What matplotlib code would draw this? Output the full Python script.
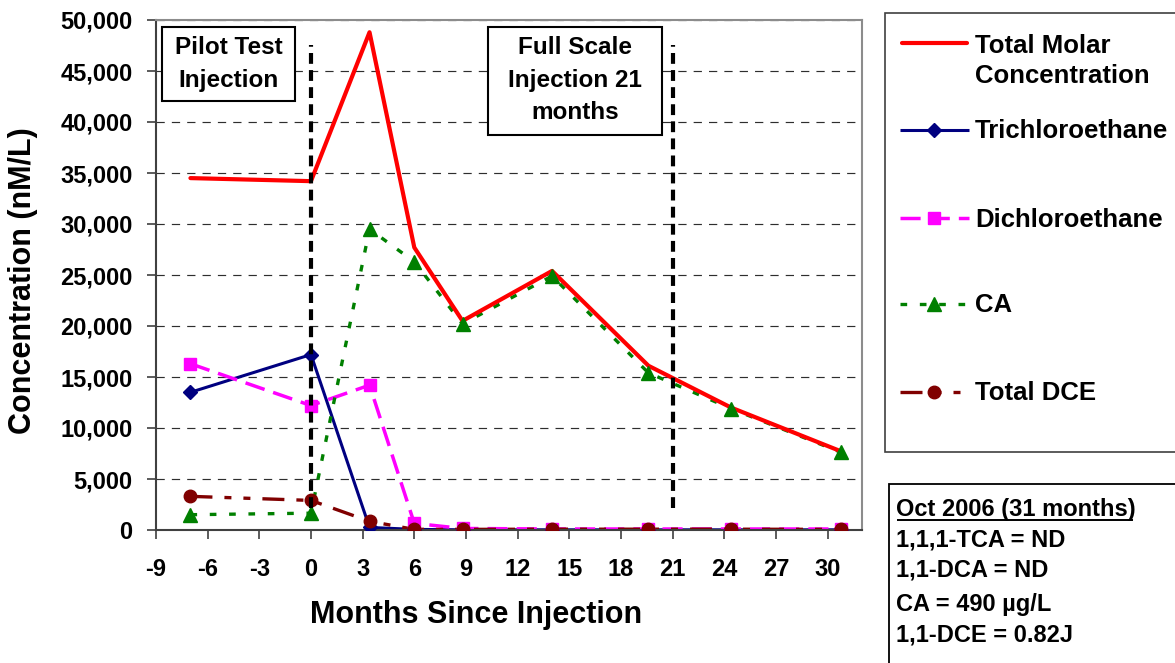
import matplotlib
matplotlib.use("Agg")
import matplotlib.pyplot as plt
from matplotlib.ticker import FuncFormatter
from matplotlib.patches import Rectangle

plt.rcParams['font.family'] = ['Liberation Sans', 'DejaVu Sans']
plt.rcParams['font.weight'] = 'bold'
plt.rcParams['axes.unicode_minus'] = False

# ---- data -------------------------------------------------------------
months = [-7, 0, 3.4, 6, 8.8, 14, 19.6, 24.4, 30.8]
total_molar = [34500, 34200, 48800, 27700, 20500, 25400, 16100, 12000, 7700]
trichloroethane = [13500, 17200, 250, 60, 20, 20, 20, 20, 20]
dichloroethane = [16300, 12200, 14200, 650, 150, 100, 100, 100, 100]
ca = [1500, 1650, 29500, 26300, 20200, 24900, 15400, 11900, 7600]
total_dce = [3300, 2900, 850, 60, 60, 80, 80, 80, 60]

series_labels = ["Total Molar\nConcentration", "Trichloroethane",
                 "Dichloroethane", "CA", "Total DCE"]
x_ticks = list(range(-9, 31, 3))
y_ticks = list(range(0, 50001, 5000))
injection_months = [0, 21]
injection_labels = ["Pilot Test\nInjection", "Full Scale\nInjection 21\nmonths"]
note_lines = ["Oct 2006 (31 months)", "1,1,1-TCA = ND", "1,1-DCA = ND",
              "CA = 490 \u00b5g/L", "1,1-DCE = 0.82J"]

# ---- styles -----------------------------------------------------------
series_values = [total_molar, trichloroethane, dichloroethane, ca, total_dce]
styles = [
    dict(color='#FF0000', lw=3.0, ls='-', marker=None, ms=0, z=2.4),
    dict(color='#000080', lw=2.2, ls='-', marker='D', ms=7, z=2.1),
    dict(color='#FF00FF', lw=2.5, ls=(0, (5.8, 2.6)), marker='s', ms=9, z=2.2),
    dict(color='#008000', lw=2.4, ls=(0, (2.0, 3.8)), marker='^', ms=10.5, z=2.3),
    dict(color='#800000', lw=2.4, ls=(0, (6.6, 3.6, 2.1, 3.6, 2.1, 3.6)),
         marker='o', ms=9, z=2.5),
]

W, H = 1175, 663
fig = plt.figure(figsize=(W / 100, H / 100), dpi=100)
fig.patch.set_facecolor('white')

ax_l, ax_r, ax_t, ax_b = 156, 862, 20, 530
ax = fig.add_axes([ax_l / W, 1 - ax_b / H, (ax_r - ax_l) / W, (ax_b - ax_t) / H])

for vals, st in zip(series_values, styles):
    ax.plot(months, vals, color=st['color'], lw=st['lw'], ls=st['ls'],
            solid_capstyle='round', dash_capstyle='butt', zorder=st['z'])
    if st['marker']:
        ax.plot(months, vals, ls='none', marker=st['marker'], ms=st['ms'],
                color=st['color'], mec=st['color'], zorder=st['z'] + 1)

# injection markers
for m in injection_months:
    ax.plot([m, m], [2150, 47550], color='black', lw=3.0,
            ls=(0, (2.6, 1.5)), dash_capstyle='butt', zorder=4)

ax.set_xlim(-9, 32)
ax.set_ylim(0, 50000)
ax.set_xticks(x_ticks)
ax.set_yticks(y_ticks)
ax.yaxis.set_major_formatter(FuncFormatter(lambda v, p: f"{v:,.0f}"))
ax.tick_params(axis='both', direction='out', length=6.5, width=1.2,
               color='#404040', labelcolor='black', labelsize=17)
for lab in ax.get_xticklabels() + ax.get_yticklabels():
    lab.set_fontweight('bold')

ax.grid(axis='y', color='#2e2e2e', lw=0.85, ls=(0, (7.0, 6.0)))

for side in ['left', 'bottom']:
    ax.spines[side].set_color('#404040')
    ax.spines[side].set_linewidth(1.5)
for side in ['top', 'right']:
    ax.spines[side].set_color('#8c8c8c')
    ax.spines[side].set_linewidth(1.5)

ax.set_xlabel("Months Since Injection", fontsize=22, fontweight='bold')
ax.xaxis.set_label_coords((476 - ax_l) / (ax_r - ax_l), -(615 - ax_b) / (ax_b - ax_t))
ax.xaxis.label.set_va('center')
ax.set_ylabel("Concentration (nM/L)", fontsize=22, fontweight='bold')
ax.yaxis.set_label_coords((23 - ax_l) / (ax_r - ax_l), (ax_b - 281) / (ax_b - ax_t))
ax.yaxis.label.set_va('center')

ax.xaxis.set_tick_params(pad=14)
ax.yaxis.set_tick_params(pad=10.5)

# ---- overlay in pixel units for boxes and legend -----------------------
ov = fig.add_axes([0, 0, 1, 1])
ov.set_xlim(0, W)
ov.set_ylim(H, 0)
ov.axis('off')


def text_lines(x, baselines, text, ha, size):
    for yb, line in zip(baselines, text.split("\n")):
        ov.text(x, yb, line, ha=ha, va='baseline', fontsize=size,
                fontweight='bold', color='black')


# injection annotation boxes
ov.add_patch(Rectangle((161.7, 27.3), 133.3, 73.4, fc='white', ec='black', lw=1.5))
text_lines(228.5, [54, 87.3], injection_labels[0], 'center', 17.5)
ov.add_patch(Rectangle((487.7, 27.3), 174, 107.7, fc='white', ec='black', lw=1.5))
text_lines(574.7, [54, 87.3, 119], injection_labels[1], 'center', 17.5)

# legend
ov.add_patch(Rectangle((885, 13.3), 320, 438.7, fc='white', ec='#404040', lw=1.2))
leg_y = [42.7, 130, 218, 304, 392]
leg_base = [[53.3, 83.3], [138.3], [226.7], [311.7], [400]]
for y, bases, label, st in zip(leg_y, leg_base, series_labels, styles):
    x0, x1 = (902, 967) if st['marker'] is None else (900, 969)
    ov.plot([x0, x1], [y, y], color=st['color'], lw=st['lw'], ls=st['ls'],
            solid_capstyle='round' if st['marker'] is None else 'butt',
            dash_capstyle='butt')
    if st['marker']:
        ov.plot([934], [y], ls='none', marker=st['marker'], ms=st['ms'],
                color=st['color'], mec=st['color'])
    text_lines(975, bases, label, 'left', 18.5)

# note box
ov.add_patch(Rectangle((889, 484.3), 320, 220, fc='white', ec='black', lw=1.3))
note_base = [516, 546.5, 577, 611, 641.5]
for yb, line in zip(note_base, note_lines):
    ov.text(896.5, yb, line, ha='left', va='baseline', fontsize=17,
            fontweight='bold', color='black')
ov.plot([896.5, 1133], [519.5, 519.5], color='black', lw=1.4, solid_capstyle='butt')

fig.savefig('out.png', dpi=100, facecolor='white')
